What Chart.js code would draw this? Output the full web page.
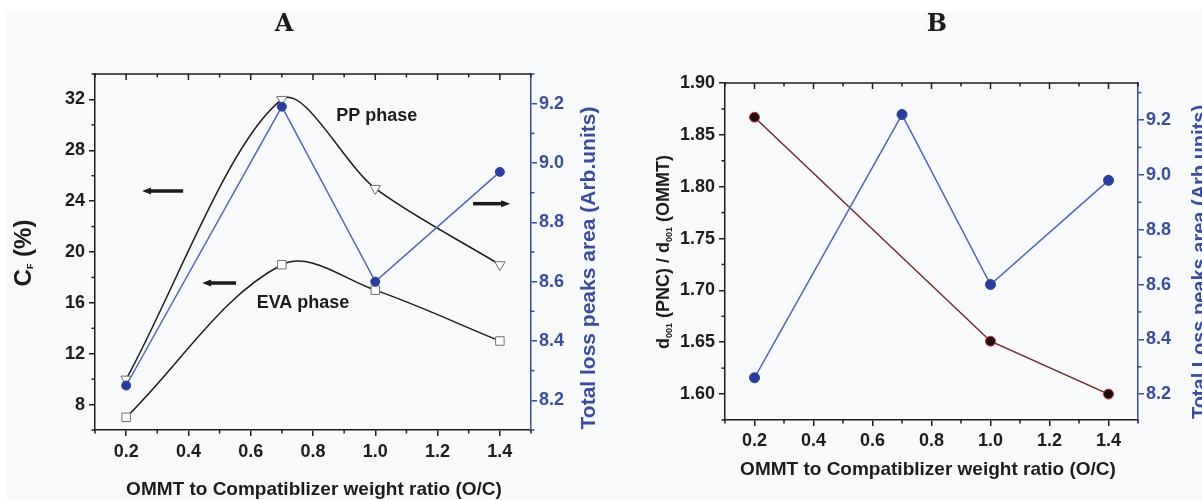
<!DOCTYPE html>
<html>
<head>
<meta charset="utf-8">
<title>Crystallinity, loss peak area and d001 spacing vs O/C ratio</title>
<script src="https://cdn.jsdelivr.net/npm/chart.js@4.4.1/dist/chart.umd.min.js"></script>
<style>
  html, body { margin: 0; padding: 0; background: #ffffff; }
  #stage { position: relative; width: 1202px; height: 500px; overflow: hidden; background: #ffffff; }
  #paper { position: absolute; left: 6px; top: 11px; right: 0; bottom: 0; background: #f8f9fb; }
  #stage canvas { position: absolute; left: 0; top: 0; }
</style>
</head>
<body>
<div id="stage">
  <div id="paper"></div>
  <canvas id="panelA" width="1202" height="500"></canvas>
  <canvas id="panelB" width="1202" height="500"></canvas>
</div>
<script>
// ---- values ----
const ratioAll   = [0.2, 0.7, 1.0, 1.4];          // O/C weight ratio
const cfPP       = [10, 32, 25, 19];              // Cf (%) PP phase
const cfEVA      = [7, 19, 17, 13];               // Cf (%) EVA phase
const lossAreaA  = [8.25, 9.19, 8.60, 8.97];      // total loss peaks area, panel A
const ratioD     = [0.2, 1.0, 1.4];               // O/C ratios with d001 data
const dSpacing   = [1.867, 1.651, 1.600];         // d001(PNC)/d001(OMMT)
const lossAreaB  = [8.26, 9.22, 8.60, 8.98];      // total loss peaks area, panel B

// ---- tick labels ----
const ratioTicks = [0.2, 0.4, 0.6, 0.8, 1.0, 1.2, 1.4];
const cfTicks    = [8, 12, 16, 20, 24, 28, 32];
const lossTicks  = [8.2, 8.4, 8.6, 8.8, 9.0, 9.2];
const dTicks     = [1.60, 1.65, 1.70, 1.75, 1.80, 1.85, 1.90];

const SANS = '"Liberation Sans", Arial, sans-serif';
const BLACK = '#1c1c1c';
const BLUE_AXIS = '#3a4c9c';
const BLUE_LINE = '#4f67bb';
const BLUE_MARK = '#2b3d9c';

const pts = (xs, ys) => xs.map((x, i) => ({ x: x, y: ys[i] }));

function axis(o) {
  return {
    type: 'linear',
    position: o.position,
    min: o.min,
    max: o.max,
    afterBuildTicks: s => { s.ticks = o.ticks.map(v => ({ value: v })); },
    afterFit: s => {
      if (o.position === 'bottom') s.height = o.size; else s.width = o.size;
    },
    ticks: {
      callback: v => Number(v).toFixed(o.dec),
      font: { family: SANS, size: 18, weight: 'bold' },
      color: o.color,
      padding: o.pad,
      autoSkip: false,
      maxRotation: 0,
      minRotation: 0
    },
    grid: { drawOnChartArea: false, drawTicks: true, tickLength: 6, color: o.color, lineWidth: 1.5 },
    border: { display: true, color: o.color, width: 1.5 }
  };
}

function minorValues(major, min, max) {
  const step = major[1] - major[0];
  const out = [];
  for (let v = major[0] - step / 2; v <= max + 1e-9; v += step) {
    if (v >= min - 1e-9) out.push(v);
  }
  return out;
}

function seg(ctx, x1, y1, x2, y2) {
  ctx.beginPath(); ctx.moveTo(x1, y1); ctx.lineTo(x2, y2); ctx.stroke();
}

// text with optional subscripts, centred on (x, y), rotated by angle
function richText(ctx, parts, x, y, angle, color) {
  ctx.save();
  ctx.translate(x, y);
  ctx.rotate(angle);
  ctx.fillStyle = color;
  ctx.textBaseline = 'middle';
  ctx.textAlign = 'left';
  let w = 0;
  parts.forEach(p => { ctx.font = p.font; w += ctx.measureText(p.text).width; });
  let cx = -w / 2;
  parts.forEach(p => {
    ctx.font = p.font;
    ctx.fillText(p.text, cx, p.dy || 0);
    cx += ctx.measureText(p.text).width;
  });
  ctx.restore();
}

// frame, minor ticks, axis titles and in-plot notes
const panelDeco = {
  id: 'panelDeco',
  afterDraw(chart, _args, o) {
    const ctx = chart.ctx;
    const a = chart.chartArea;
    const sx = chart.scales.x, sl = chart.scales.y, sr = chart.scales.y2;
    ctx.save();
    ctx.lineCap = 'butt';

    // top spine with inward ticks
    ctx.strokeStyle = BLACK;
    ctx.lineWidth = 1.5;
    seg(ctx, a.left, a.top, a.right + 0.75, a.top);
    const xMajor = sx.ticks.map(t => t.value);
    xMajor.forEach(v => { const p = sx.getPixelForValue(v); seg(ctx, p, a.top, p, a.top + 6); });
    minorValues(xMajor, sx.min, sx.max).forEach(v => {
      const p = sx.getPixelForValue(v);
      seg(ctx, p, a.top, p, a.top + 3.5);
      seg(ctx, p, a.bottom, p, a.bottom + 3.5);
    });
    const lMajor = sl.ticks.map(t => t.value);
    minorValues(lMajor, sl.min, sl.max).forEach(v => {
      const p = sl.getPixelForValue(v); seg(ctx, a.left - 3.5, p, a.left, p);
    });
    ctx.strokeStyle = BLUE_AXIS;
    const rMajor = sr.ticks.map(t => t.value);
    minorValues(rMajor, sr.min, sr.max).forEach(v => {
      const p = sr.getPixelForValue(v); seg(ctx, a.right, p, a.right + 3.5, p);
    });

    // panel letter
    ctx.fillStyle = BLACK;
    ctx.font = 'bold 24px "DejaVu Serif", "Liberation Serif", serif';
    ctx.textAlign = 'center';
    ctx.textBaseline = 'middle';
    ctx.fillText(o.letter.text, o.letter.x, o.letter.y);

    // axis titles
    richText(ctx, o.leftTitle.parts, o.leftTitle.x, o.leftTitle.y, -Math.PI / 2, BLACK);
    richText(ctx, o.rightTitle.parts, o.rightTitle.x, o.rightTitle.y, -Math.PI / 2, BLUE_AXIS);
    richText(ctx, o.xTitle.parts, o.xTitle.x, o.xTitle.y, 0, BLACK);

    // notes inside the plot
    (o.notes || []).forEach(n => {
      ctx.font = 'bold 18px ' + SANS;
      ctx.fillStyle = BLACK;
      ctx.textAlign = 'center';
      ctx.textBaseline = 'middle';
      ctx.fillText(n.text, sx.getPixelForValue(n.x), sl.getPixelForValue(n.y));
    });
    (o.arrows || []).forEach(r => {
      const x1 = sx.getPixelForValue(r.from), x2 = sx.getPixelForValue(r.to);
      const y = sl.getPixelForValue(r.y);
      const dir = Math.sign(x2 - x1);
      ctx.strokeStyle = BLACK;
      ctx.fillStyle = BLACK;
      ctx.lineWidth = 3.5;
      seg(ctx, x1, y, x2 - dir * 7, y);
      ctx.beginPath();
      ctx.moveTo(x2, y);
      ctx.lineTo(x2 - dir * 9, y - 3.5);
      ctx.lineTo(x2 - dir * 9, y + 3.5);
      ctx.closePath();
      ctx.fill();
    });
    ctx.restore();
  }
};

const T = size => 'bold ' + size + 'px ' + SANS;

// ---- Panel A ----
new Chart(document.getElementById('panelA'), {
  type: 'line',
  data: {
    datasets: [
      {
        label: 'Total loss peaks area',
        data: pts(ratioAll, lossAreaA),
        yAxisID: 'y2',
        borderColor: BLUE_LINE,
        borderWidth: 1.5,
        tension: 0,
        pointStyle: 'circle',
        pointRadius: 4.5,
        pointBackgroundColor: BLUE_MARK,
        pointBorderColor: BLUE_MARK,
        pointBorderWidth: 1
      },
      {
        label: 'PP phase',
        data: pts(ratioAll, cfPP),
        yAxisID: 'y',
        borderColor: BLACK,
        borderWidth: 1.5,
        tension: 0.3,
        pointStyle: 'triangle',
        rotation: 180,
        pointRadius: 6,
        pointBackgroundColor: '#ffffff',
        pointBorderColor: '#707070',
        pointBorderWidth: 1
      },
      {
        label: 'EVA phase',
        data: pts(ratioAll, cfEVA),
        yAxisID: 'y',
        borderColor: BLACK,
        borderWidth: 1.5,
        tension: 0.35,
        pointStyle: 'rect',
        pointRadius: 6,
        pointBackgroundColor: '#ffffff',
        pointBorderColor: '#707070',
        pointBorderWidth: 1
      }
    ]
  },
  options: {
    responsive: false,
    animation: false,
    devicePixelRatio: 1,
    layout: { padding: { top: 74, left: 0, right: 602, bottom: 0 } },
    scales: {
      x: axis({ position: 'bottom', min: 0.1, max: 1.5, ticks: ratioTicks, dec: 1, size: 70, pad: 5, color: BLACK }),
      y: axis({ position: 'left', min: 6, max: 34, ticks: cfTicks, dec: 0, size: 95, pad: 4, color: BLACK }),
      y2: axis({ position: 'right', min: 8.1, max: 9.3, ticks: lossTicks, dec: 1, size: 69, pad: 2, color: BLUE_AXIS })
    },
    plugins: {
      legend: { display: false },
      tooltip: { enabled: false },
      panelDeco: {
        letter: { text: 'A', x: 284, y: 25 },
        leftTitle: { x: 24, y: 253, parts: [
          { text: 'C', font: T(24) },
          { text: 'F', font: T(9), dy: 7 },
          { text: ' (%)', font: T(24) }
        ] },
        rightTitle: { x: 589, y: 268, parts: [
          { text: 'Total loss peaks area (Arb.units)', font: T(21) }
        ] },
        xTitle: { x: 314, y: 490, parts: [
          { text: 'OMMT to Compatiblizer weight ratio (O/C)', font: T(19) }
        ] },
        notes: [
          { text: 'PP phase', x: 1.005, y: 30.7 },
          { text: 'EVA phase', x: 0.768, y: 16.0 }
        ],
        arrows: [
          { from: 0.383, to: 0.251, y: 24.8 },
          { from: 0.553, to: 0.444, y: 17.56 },
          { from: 1.314, to: 1.433, y: 23.8 }
        ]
      }
    }
  },
  plugins: [panelDeco]
});

// ---- Panel B ----
new Chart(document.getElementById('panelB'), {
  type: 'line',
  data: {
    datasets: [
      {
        label: 'Total Loss peaks area',
        data: pts(ratioAll, lossAreaB),
        yAxisID: 'y2',
        borderColor: BLUE_LINE,
        borderWidth: 1.5,
        tension: 0,
        pointStyle: 'circle',
        pointRadius: 5,
        pointBackgroundColor: BLUE_MARK,
        pointBorderColor: BLUE_MARK,
        pointBorderWidth: 1
      },
      {
        label: 'd001(PNC)/d001(OMMT)',
        data: pts(ratioD, dSpacing),
        yAxisID: 'y',
        borderColor: '#6e2a2a',
        borderWidth: 1.5,
        tension: 0,
        pointStyle: 'circle',
        pointRadius: 5,
        pointBackgroundColor: '#1a1010',
        pointBorderColor: '#d23a3a',
        pointBorderWidth: 1
      }
    ]
  },
  options: {
    responsive: false,
    animation: false,
    devicePixelRatio: 1,
    layout: { padding: { top: 83, left: 600, right: 0, bottom: 0 } },
    scales: {
      x: axis({ position: 'bottom', min: 0.1, max: 1.5, ticks: ratioTicks, dec: 1, size: 80, pad: 4, color: BLACK }),
      y: axis({ position: 'left', min: 1.575, max: 1.90, ticks: dTicks, dec: 2, size: 125, pad: 4, color: BLACK }),
      y2: axis({ position: 'right', min: 8.106, max: 9.335, ticks: lossTicks, dec: 1, size: 64, pad: 2, color: BLUE_AXIS })
    },
    plugins: {
      legend: { display: false },
      tooltip: { enabled: false },
      panelDeco: {
        letter: { text: 'B', x: 937, y: 25 },
        leftTitle: { x: 664, y: 252, parts: [
          { text: 'd', font: T(18) },
          { text: '001', font: T(9), dy: 6 },
          { text: ' (PNC) / d', font: T(18) },
          { text: '001', font: T(9), dy: 6 },
          { text: ' (OMMT)', font: T(18) }
        ] },
        rightTitle: { x: 1200, y: 262, parts: [
          { text: 'Total Loss peaks area (Arb.units)', font: T(20) }
        ] },
        xTitle: { x: 928, y: 470, parts: [
          { text: 'OMMT to Compatiblizer weight ratio (O/C)', font: T(19) }
        ] }
      }
    }
  },
  plugins: [panelDeco]
});
</script>
</body>
</html>
